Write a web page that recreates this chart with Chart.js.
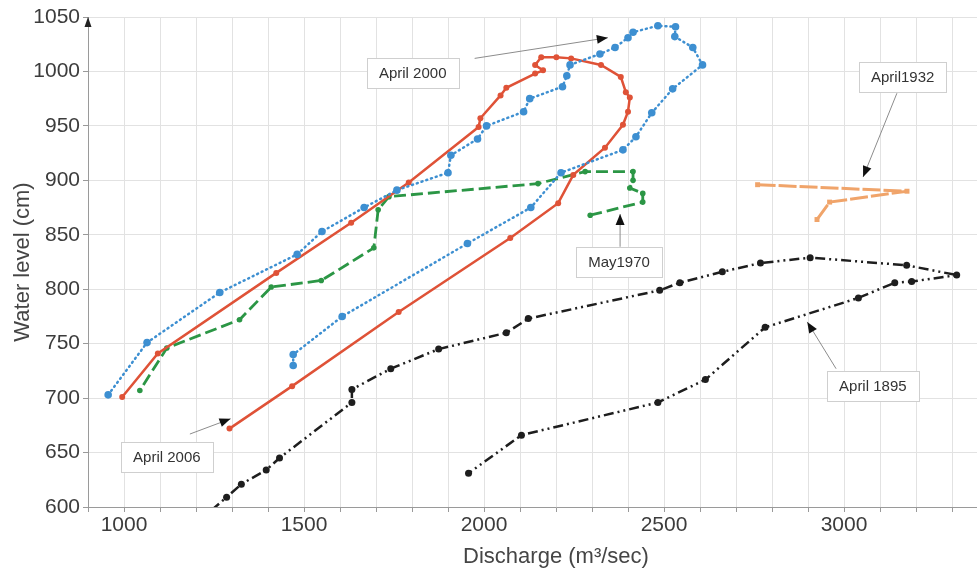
<!DOCTYPE html>
<html>
<head>
<meta charset="utf-8">
<script src="https://cdn.jsdelivr.net/npm/chart.js@4.4.1/dist/chart.umd.min.js"></script>
<style>
html, body { margin: 0; padding: 0; overflow: hidden; background: #fff; }
#wrap { width: 1028px; height: 572px; }
</style>
</head>
<body>
<div id="wrap"><canvas id="rating"></canvas></div>
<script>
// discharge (m3/sec) / water level (cm) pairs
var apr2000Q = [1470, 1470, 1606, 1954, 2130, 2214, 2386, 2422, 2466, 2524, 2607, 2580, 2530, 2532, 2483, 2414, 2400, 2364, 2322, 2239, 2230, 2218, 2127, 2110, 2007, 1982, 1908, 1900, 1758, 1667, 1550, 1481, 1266, 1064, 956];
var apr2000H = [730, 740, 775, 842, 875, 907, 928, 940, 962, 984, 1006, 1022, 1032, 1041, 1042, 1036, 1031, 1022, 1016, 1006, 996, 986, 975, 963, 950, 938, 923, 907, 891, 875, 853, 832, 797, 751, 703];

var apr2006Q = [1293, 1467, 1763, 2073, 2206, 2248, 2336, 2386, 2400, 2405, 2394, 2380, 2325, 2242, 2201, 2159, 2142, 2164, 2142, 2062, 2046, 1990, 1985, 1791, 1631, 1423, 1094, 995];
var apr2006H = [672, 711, 779, 847, 879, 905, 930, 951, 963, 976, 981, 995, 1006, 1012, 1013, 1013, 1006, 1001, 998, 985, 978, 957, 949, 898, 861, 815, 741, 701];

var may1970Q = [2295, 2441, 2441, 2405, 2414, 2414, 2281, 2150, 1736, 1706, 1694, 1548, 1409, 1321, 1119, 1044];
var may1970H = [868, 880, 888, 893, 900, 908, 908, 897, 885, 873, 838, 808, 802, 772, 746, 707];

var apr1932Q = [2760, 3175, 2960, 2925];
var apr1932H = [896, 890, 880, 864];

var apr1895Q = [1243, 1285, 1326, 1395, 1432, 1633, 1633, 1741, 1874, 2062, 2123, 2488, 2544, 2662, 2768, 2906, 3174, 3313, 3188, 3141, 3040, 2781, 2615, 2483, 2104, 1957];
var apr1895H = [597, 609, 621, 634, 645, 696, 708, 727, 745, 760, 773, 799, 806, 816, 824, 829, 822, 813, 807, 806, 792, 765, 717, 696, 666, 631];

var xTicksShown = [1000, 1500, 2000, 2500, 3000];

// label boxes and their pointers, in data units
var notes = [
    { text: 'April 2000', x: 1802, y: 999, fromX: 1974, fromY: 1012, toX: 2344, toY: 1031 },
    { text: 'April 2006', x: 1119, y: 646, fromX: 1183, fromY: 667, toX: 1296, toY: 681 },
    { text: 'May1970', x: 2375, y: 825, fromX: 2378, fromY: 839, toX: 2378, toY: 869 },
    { text: 'April1932', x: 3163, y: 995, fromX: 3147, fromY: 980, toX: 3053, toY: 903 },
    { text: 'April 1895', x: 3080, y: 711, fromX: 2978, fromY: 727, toX: 2898, toY: 770 }
];

function pairs(q, h) {
    return q.map(function (v, i) { return { x: v, y: h[i] }; });
}

var FONT = '"Liberation Sans", Arial, Helvetica, sans-serif';

var notePlugin = {
    id: 'notes',
    afterDatasetsDraw: function (chart) {
        var c = chart.ctx, xs = chart.scales.x, ys = chart.scales.y;
        c.save();
        c.font = '15px ' + FONT;
        notes.forEach(function (n) {
            var x0 = xs.getPixelForValue(n.fromX), y0 = ys.getPixelForValue(n.fromY);
            var x1 = xs.getPixelForValue(n.toX), y1 = ys.getPixelForValue(n.toY);
            c.strokeStyle = '#8c8c8c';
            c.lineWidth = 1;
            c.beginPath();
            c.moveTo(x0, y0);
            c.lineTo(x1, y1);
            c.stroke();
            var a = Math.atan2(y1 - y0, x1 - x0), L = 11, W = 4.5;
            c.fillStyle = '#111';
            c.beginPath();
            c.moveTo(x1, y1);
            c.lineTo(x1 - L * Math.cos(a) + W * Math.sin(a), y1 - L * Math.sin(a) - W * Math.cos(a));
            c.lineTo(x1 - L * Math.cos(a) - W * Math.sin(a), y1 - L * Math.sin(a) + W * Math.cos(a));
            c.closePath();
            c.fill();

            var cx = xs.getPixelForValue(n.x), cy = ys.getPixelForValue(n.y);
            var w = Math.round(c.measureText(n.text).width + 24), h = 30;
            var bx = Math.round(cx - w / 2) + 0.5, by = Math.round(cy - h / 2) + 0.5;
            c.fillStyle = '#fff';
            c.fillRect(bx, by, w, h);
            c.strokeStyle = '#cfcfcf';
            c.strokeRect(bx, by, w, h);
            c.fillStyle = '#333';
            c.textAlign = 'center';
            c.textBaseline = 'middle';
            c.fillText(n.text, cx, cy + 1);
        });
        c.restore();
    },
    afterDraw: function (chart) {
        // arrow head on top of the y axis
        var c = chart.ctx, a = chart.chartArea;
        c.save();
        c.fillStyle = '#222';
        c.beginPath();
        c.moveTo(a.left, a.top);
        c.lineTo(a.left - 3.5, a.top + 10);
        c.lineTo(a.left + 3.5, a.top + 10);
        c.closePath();
        c.fill();
        c.restore();
    }
};

var noFirst = function (r) {
    return function (ctx) { return ctx.dataIndex === 0 ? 0 : r; };
};

new Chart(document.getElementById('rating'), {
    type: 'scatter',
    data: {
        datasets: [{
            label: 'April 2000',
            data: pairs(apr2000Q, apr2000H),
            showLine: true,
            borderColor: '#3d8fd1',
            backgroundColor: '#3d8fd1',
            borderWidth: 2.5,
            borderDash: [1, 4],
            borderCapStyle: 'round',
            pointRadius: 3.8,
            pointBorderWidth: 0
        }, {
            label: 'April 2006',
            data: pairs(apr2006Q, apr2006H),
            showLine: true,
            borderColor: '#df5237',
            backgroundColor: '#df5237',
            borderWidth: 2.5,
            pointRadius: 3,
            pointBorderWidth: 0
        }, {
            label: 'May1970',
            data: pairs(may1970Q, may1970H),
            showLine: true,
            borderColor: '#2b9645',
            backgroundColor: '#2b9645',
            borderWidth: 2.8,
            borderDash: [12, 5],
            pointRadius: 2.8,
            pointBorderWidth: 0
        }, {
            label: 'April1932',
            data: pairs(apr1932Q, apr1932H),
            showLine: true,
            borderColor: '#f0a46a',
            backgroundColor: '#f0a46a',
            borderWidth: 3,
            borderDash: [18, 3],
            pointStyle: 'rect',
            pointRadius: 3.5,
            pointBorderWidth: 0
        }, {
            label: 'April 1895',
            data: pairs(apr1895Q, apr1895H),
            showLine: true,
            borderColor: '#1e1e1e',
            backgroundColor: '#1e1e1e',
            borderWidth: 2.5,
            borderDash: [10, 4, 2, 4, 2, 4],
            pointRadius: noFirst(3.5),
            pointBorderWidth: 0
        }]
    },
    options: {
        responsive: true,
        maintainAspectRatio: false,
        animation: false,
        layout: { padding: { top: 17, right: 0, left: 0, bottom: 0 } },
        plugins: {
            legend: { display: false },
            tooltip: { enabled: false }
        },
        elements: { line: { tension: 0 } },
        scales: {
            x: {
                type: 'linear',
                min: 900,
                max: 3500,
                afterFit: function (s) { s.height = 65; },
                grid: { color: '#e2e2e2', tickColor: '#9a9a9a', tickLength: 5 },
                border: { color: '#9a9a9a' },
                ticks: {
                    stepSize: 100,
                    autoSkip: false,
                    maxRotation: 0,
                    padding: 1,
                    color: '#3c3c3c',
                    font: { family: FONT, size: 21 },
                    callback: function (v) { return xTicksShown.indexOf(v) >= 0 ? String(v) : ''; }
                },
                title: {
                    display: true,
                    text: 'Discharge (m\u00b3/sec)',
                    color: '#454545',
                    font: { family: FONT, size: 22 },
                    padding: { top: 0, bottom: 2 }
                }
            },
            y: {
                min: 600,
                max: 1050,
                afterFit: function (s) { s.width = 88; },
                grid: { color: '#e2e2e2', tickColor: '#9a9a9a', tickLength: 5 },
                border: { color: '#9a9a9a' },
                ticks: {
                    stepSize: 50,
                    padding: 3,
                    color: '#3c3c3c',
                    font: { family: FONT, size: 21 },
                    callback: function (v) { return String(v); }
                },
                title: {
                    display: true,
                    text: 'Water level (cm)',
                    color: '#454545',
                    font: { family: FONT, size: 22 },
                    padding: { top: 10, bottom: 0 }
                }
            }
        }
    },
    plugins: [notePlugin]
});
</script>
</body>
</html>
